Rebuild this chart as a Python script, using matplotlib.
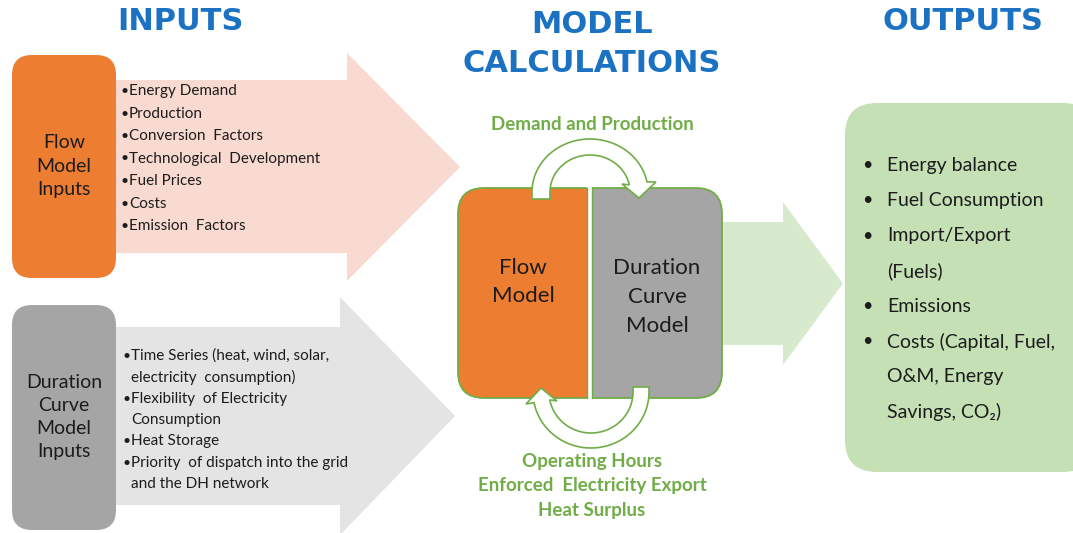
import numpy as np
import matplotlib
matplotlib.use("Agg")
import matplotlib.pyplot as plt
from matplotlib.patches import Polygon, FancyBboxPatch, Rectangle

# texts of the diagram
headers = ["INPUTS", "MODEL\nCALCULATIONS", "OUTPUTS"]
flow_box_label = "Flow\nModel\nInputs"
duration_box_label = "Duration\nCurve\nModel\nInputs"
flow_inputs = ["Energy Demand", "Production", "Conversion  Factors",
               "Technological  Development", "Fuel Prices", "Costs",
               "Emission  Factors"]
duration_inputs = ["Time Series (heat, wind, solar,", "electricity  consumption)",
                   "Flexibility  of Electricity", "Consumption", "Heat Storage",
                   "Priority  of dispatch into the grid", "and the DH network"]
duration_bullet = [True, False, True, False, True, True, False]
model_labels = ["Flow\nModel", "Duration\nCurve\nModel"]
top_loop_label = "Demand and Production"
bottom_loop_label = "Operating Hours\nEnforced  Electricity Export\nHeat Surplus"
outputs = ["Energy balance", "Fuel Consumption", "Import/Export", "(Fuels)",
           "Emissions", "Costs (Capital, Fuel,", "O&M, Energy", "Savings, CO\u2082)"]
output_bullet = [True, True, True, False, True, True, False, False]

ORANGE = "#ED7D31"
GREY = "#A5A5A5"
BLUE = "#1B72C2"
GREEN = "#70AD47"
TXT = "#1c1c1c"
FONT = "Lato"

fig = plt.figure(figsize=(10.73, 5.33), dpi=100)
ax = fig.add_axes([0, 0, 1, 1])
ax.set_xlim(0, 1073)
ax.set_ylim(533, 0)
ax.axis("off")


def block_arrow(x0, x1, x2, bt, bb, ht, hb, color):
    ty = (ht + hb) / 2
    pts = [(x0, bt), (x1, bt), (x1, ht), (x2, ty), (x1, hb), (x1, bb), (x0, bb)]
    ax.add_patch(Polygon(pts, closed=True, facecolor=color, edgecolor="none"))


def rbox(x, y, w, h, r, color, ec="none", lw=0, **kw):
    p = FancyBboxPatch((x, y), w, h, boxstyle=f"round,pad=0,rounding_size={r}",
                       facecolor=color, edgecolor=ec, linewidth=lw, **kw)
    ax.add_patch(p)
    return p


# headers
ax.text(180, 22, headers[0], ha="center", va="center", fontsize=22,
        fontweight="bold", color=BLUE, family="DejaVu Sans")
ax.text(592, 44, headers[1], ha="center", va="center", fontsize=22,
        fontweight="bold", color=BLUE, family="DejaVu Sans", linespacing=1.4)
ax.text(963, 22, headers[2], ha="center", va="center", fontsize=22,
        fontweight="bold", color=BLUE, family="DejaVu Sans")

# input arrows
block_arrow(100, 347, 460, 80, 253, 53, 281, "#F9DAD0")
block_arrow(100, 340, 455, 327, 505, 297, 535, "#E4E4E4")

# input boxes
rbox(12, 55, 104, 223, 20, ORANGE)
ax.text(64, 166, flow_box_label, ha="center", va="center", fontsize=14,
        color=TXT, family=FONT, linespacing=1.45)
rbox(12, 305, 104, 225, 20, GREY)
ax.text(64, 417, duration_box_label, ha="center", va="center", fontsize=14,
        color=TXT, family=FONT, linespacing=1.45)

for i, s in enumerate(flow_inputs):
    y = 91 + i * 22.5
    ax.text(120, y, "\u2022", ha="left", va="center", fontsize=10, color=TXT, family=FONT)
    ax.text(129, y, s, ha="left", va="center", fontsize=11, color=TXT, family=FONT)

for i, s in enumerate(duration_inputs):
    y = [356, 377, 399, 420, 441, 463, 484][i]
    if duration_bullet[i]:
        ax.text(122, y, "\u2022", ha="left", va="center", fontsize=10, color=TXT, family=FONT)
    ax.text(131, y, s, ha="left", va="center", fontsize=11, color=TXT, family=FONT)

# output arrow and box
block_arrow(715, 783, 843, 222, 345, 202, 365, "#D8EACD")
rbox(845, 103, 250, 369, 32, "#C5E0B4")
for i, s in enumerate(outputs):
    y = 165 + i * 35.3
    if output_bullet[i]:
        ax.text(862, y, "\u2022", ha="left", va="center", fontsize=13, color=TXT, family=FONT)
    ax.text(887, y, s, ha="left", va="center", fontsize=14, color=TXT, family=FONT)

# central model boxes
bx, by, bw, bh = 458, 188, 264, 210
g = rbox(bx, by, bw, bh, 26, GREY, ec=GREEN, lw=1.3)
g.set_clip_path(Rectangle((592, 100), 200, 400, transform=ax.transData))
o = rbox(bx, by, bw, bh, 26, ORANGE, ec=GREEN, lw=1.3)
o.set_clip_path(Rectangle((400, 100), 187, 400, transform=ax.transData))
ax.plot([587, 587], [by, by + bh], color=GREEN, lw=1.0)
ax.plot([592, 592], [by, by + bh], color=GREEN, lw=1.0)
ax.text(523, 282, model_labels[0], ha="center", va="center", fontsize=16,
        color=TXT, family=FONT, linespacing=1.56)
ax.text(657, 297, model_labels[1], ha="center", va="center", fontsize=16,
        color=TXT, family=FONT, linespacing=1.56)


def loop_arrow(cx, cy, rxo, ryo, rxi, ryi, t0, t1, stem_y, head, sign):
    # sign=1: upper half (y up = smaller), sign=-1: lower half
    th = np.radians(np.linspace(t0, t1, 60))
    outer = [(cx + rxo * np.cos(t), cy - sign * ryo * np.sin(t)) for t in th]
    inner = [(cx + rxi * np.cos(t), cy - sign * ryi * np.sin(t)) for t in th][::-1]
    x_so, x_si = cx + rxo * np.cos(th[0]), cx + rxi * np.cos(th[0])
    pts = [(x_si, stem_y), (x_so, stem_y)] + outer + head + inner
    ax.add_patch(Polygon(pts, closed=True, facecolor="white", edgecolor=GREEN, lw=1.2))


loop_arrow(590, 192, 58, 53, 40, 37, 180, 11, 199,
           [(656, 182), (639, 198), (622, 184)], 1)
loop_arrow(591, 392, 58, 56, 42, 41, 0, 169, 387,
           [(526, 404), (541, 388), (557, 401)], -1)

ax.text(592, 125, top_loop_label, ha="center", va="center", fontsize=13.5,
        fontweight="bold", color=GREEN, family=FONT)
ax.text(592, 486, bottom_loop_label, ha="center", va="center", fontsize=13.5,
        fontweight="bold", color=GREEN, family=FONT, linespacing=1.52)

fig.savefig("out.png", dpi=100)
